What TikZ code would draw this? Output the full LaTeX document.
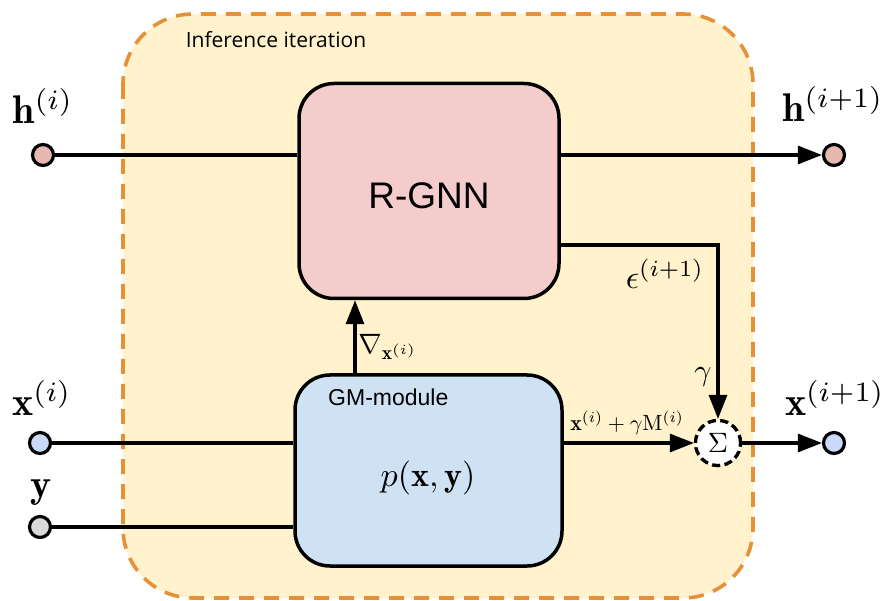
\documentclass[tikz,border=0pt]{standalone}
\usepackage{fontspec}
\setsansfont{Liberation Sans}
\newfontfamily\notefont{Open Sans}
\usetikzlibrary{arrows.meta}

\definecolor{framefill}{HTML}{FFF2CC}
\definecolor{frameline}{HTML}{E69138}
\definecolor{rgnnfill}{HTML}{F4CCCC}
\definecolor{gmfill}{HTML}{CFE2F3}
\definecolor{hdot}{HTML}{E6B8AF}
\definecolor{xdot}{HTML}{C9DAF8}
\definecolor{ydot}{HTML}{D9D9D9}

% math set at 10pt and enlarged, so that the math fonts scale freely
\newcommand{\bigmath}[2]{\scalebox{#1}{$#2$}}

\tikzset{
  block/.style={draw=black, line width=3.5pt, rounded corners=35pt, inner sep=0pt},
  port/.style={circle, draw=black, line width=3.2pt, minimum size=21pt, inner sep=0pt},
  wire/.style={draw=black, line width=3.2pt},
  arr/.style={wire, -{Triangle[length=24pt,width=18pt]}},
  summer/.style={circle, draw=black, fill=white, line width=3.2pt, dash pattern=on 8pt off 4.5pt, minimum size=45pt, inner sep=0pt},
  lbl/.style={inner sep=0pt, text=black},
}

\begin{document}
\begin{tikzpicture}[x=1pt, y=-1pt]
\useasboundingbox (0,0) rectangle (889,601);

% iteration frame
\draw[fill=framefill, draw=frameline, line width=3.6pt, dash pattern=on 15pt off 10pt, rounded corners=70pt]
  (123,14) rectangle (753,598);
\node[lbl, font=\notefont\fontsize{21}{25}\selectfont] (iter) at (276,40) {Inference iteration};

% main blocks
\node[block, fill=rgnnfill, minimum width=260pt, minimum height=215pt] (rgnn) at (429,191) {};
\node[font=\sffamily\fontsize{37}{44}\selectfont] (rgnntxt) at (429,196) {R-GNN};
\node[block, fill=gmfill, minimum width=267pt, minimum height=191pt] (gm) at (428.5,470.5) {};
\node[lbl, font=\sffamily\fontsize{23}{28}\selectfont, anchor=west] (gmtxt) at (328,397) {GM-module};
\node[lbl] (pxy) at (428,478) {\bigmath{3.4}{p(\mathbf{x},\mathbf{y})}};

% ports
\node[port, fill=hdot] (hin) at (43,155) {};
\node[port, fill=hdot] (hout) at (834,155) {};
\node[port, fill=xdot] (xin) at (40,443) {};
\node[port, fill=xdot] (xout) at (834,443) {};
\node[port, fill=ydot] (yin) at (40,527) {};

% port labels
\node[lbl] (hinl) at (43,106) {\bigmath{4.0}{\mathbf{h}^{(i)}}};
\node[lbl] (houtl) at (833,104) {\bigmath{4.0}{\mathbf{h}^{(i+1)}}};
\node[lbl] (xinl) at (42,398) {\bigmath{4.0}{\mathbf{x}^{(i)}}};
\node[lbl] (xoutl) at (835,398) {\bigmath{4.0}{\mathbf{x}^{(i+1)}}};
\node[lbl] (yinl) at (41,493) {\bigmath{4.0}{\mathbf{y}}};

% summation node
\node[summer] (sig) at (718,443) {};

% connectors
\coordinate (gx) at (355,0);
\coordinate (ey) at (0,245);
\draw[wire] (hin) -- (hin -| rgnn.west);
\draw[arr] (rgnn.east |- hout) -- (hout);
\draw[arr] (rgnn.east |- ey) -| (sig.north);
\draw[arr] (gm.north -| gx) -- (rgnn.south -| gx);
\draw[wire] (xin) -- (xin -| gm.west);
\draw[wire] (yin) -- (yin -| gm.west);
\draw[arr] (gm.east |- sig) -- (sig.west);
\draw[arr] (sig) -- (xout);
\node[summer] (sigtop) at (sig) {\bigmath{2.8}{\Sigma}};

% connector labels
\node[lbl] (epsl) at (665,274) {\bigmath{3.3}{\epsilon^{(i+1)}}};
\node[lbl] (gammal) at (703,377) {\bigmath{3.0}{\gamma}};
\node[lbl] (upd) at (627,423) {\bigmath{2.2}{\mathbf{x}^{(i)}+\gamma\mathrm{M}^{(i)}}};
\node[lbl] (gradl) at (388,347) {\bigmath{2.8}{\nabla_{\mathbf{x}^{(i)}}}};
\end{tikzpicture}
\end{document}
